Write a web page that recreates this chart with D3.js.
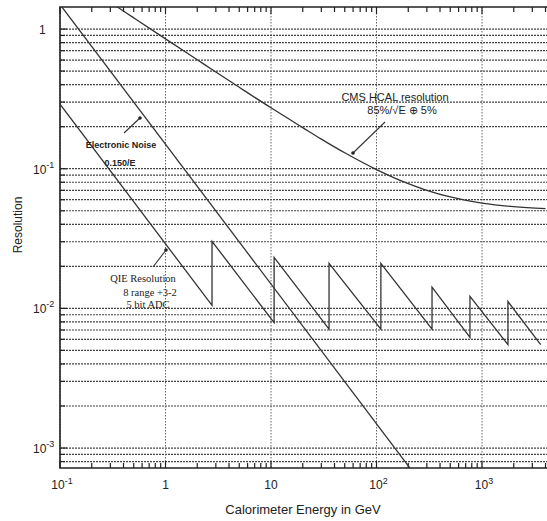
<!DOCTYPE html>
<html>
<head>
<meta charset="utf-8">
<script src="https://cdn.jsdelivr.net/npm/d3@7"></script>
<style>
  body { margin: 0; background: #fff; overflow: hidden; }
  svg { display: block; }
</style>
</head>
<body>
<div id="chart"></div>
<script>
// tick labels (base, exponent)
const xTickValues = [0.1, 1, 10, 100, 1000];
const xTickLabels = [["10", "-1"], ["1", ""], ["10", ""], ["10", "2"], ["10", "3"]];
const yTickValues = [1, 0.1, 0.01, 0.001];
const yTickLabels = [["1", ""], ["10", "-1"], ["10", "-2"], ["10", "-3"]];

// Electronic noise 0.150/E
const noiseE = [0.1, 210];
const noiseRes = [1.5, 0.00071];

// CMS HCAL resolution
const hcalE = [0.3, 0.35, 0.5, 1, 2, 3, 5, 10, 20, 30, 50, 100, 200, 300, 500, 1000, 2000, 4000];
const hcalRes = [1.553, 1.438, 1.203, 0.851, 0.603, 0.493, 0.383, 0.273, 0.197, 0.163, 0.130, 0.0986, 0.0782, 0.0701, 0.0628, 0.0568, 0.0535, 0.0518];

// QIE resolution sawtooth vertices
const qieE = [0.1, 2.76, 2.76, 10.7, 10.7, 35.5, 35.5, 110, 110, 336, 336, 769, 769, 1762, 1762, 3600];
const qieRes = [0.29, 0.0105, 0.0302, 0.0079, 0.0232, 0.0071, 0.021, 0.0071, 0.021, 0.0071, 0.0142, 0.0062, 0.0122, 0.0055, 0.0112, 0.0055];

var W = 547, H = 521;
var plotLeft = 60, plotTop = 7, plotBottom = 468, plotRight = 587.5;

var svg = d3.select("#chart").append("svg").attr("width", W).attr("height", H);

var x = d3.scaleLog().domain([0.1, 1e4]).range([plotLeft, plotRight]);
var y = d3.scaleLog().domain([Math.pow(10, -3.143), Math.pow(10, 0.158)]).range([plotBottom, plotTop]);

svg.append("clipPath").attr("id", "plot")
  .append("rect").attr("x", plotLeft).attr("y", plotTop)
  .attr("width", plotRight - plotLeft).attr("height", plotBottom - plotTop);

var isMajor = v => Math.abs(Math.log10(v) - Math.round(Math.log10(v))) < 1e-6;

// horizontal grid at every tick
svg.append("g").selectAll("line")
  .data(y.ticks())
  .join("line")
  .attr("x1", plotLeft).attr("x2", plotRight)
  .attr("y1", d => y(d)).attr("y2", d => y(d))
  .attr("stroke", "#444")
  .attr("stroke-width", 1.2)
  .attr("stroke-dasharray", "2,1");

// vertical grid at decades
svg.append("g").selectAll("line")
  .data(x.ticks().filter(isMajor))
  .join("line")
  .attr("x1", d => x(d)).attr("x2", d => x(d))
  .attr("y1", plotTop).attr("y2", plotBottom)
  .attr("stroke", "#666")
  .attr("stroke-width", 1)
  .attr("stroke-dasharray", "1.5,1.5");

// ticks on bottom/top/left
var xt = x.ticks();
svg.append("g").selectAll("line").data(xt).join("line")
  .attr("x1", d => x(d)).attr("x2", d => x(d))
  .attr("y1", plotBottom).attr("y2", d => plotBottom - (isMajor(d) ? 7 : 5))
  .attr("stroke", "#222").attr("stroke-width", 1.2);
svg.append("g").selectAll("line").data(xt).join("line")
  .attr("x1", d => x(d)).attr("x2", d => x(d))
  .attr("y1", plotTop).attr("y2", d => plotTop + (isMajor(d) ? 7 : 5))
  .attr("stroke", "#222").attr("stroke-width", 1.2);
svg.append("g").selectAll("line").data(y.ticks()).join("line")
  .attr("x1", plotLeft).attr("x2", d => plotLeft + (isMajor(d) ? 7 : 5))
  .attr("y1", d => y(d)).attr("y2", d => y(d))
  .attr("stroke", "#222").attr("stroke-width", 1.2);

// frame
svg.append("path")
  .attr("d", `M${plotRight},${plotTop}H${plotLeft}V${plotBottom}H${plotRight}`)
  .attr("fill", "none").attr("stroke", "#222").attr("stroke-width", 1.6);

var line = d3.line().x(d => x(d[0])).y(d => y(d[1]));
var curves = svg.append("g").attr("clip-path", "url(#plot)")
  .attr("fill", "none").attr("stroke", "#333").attr("stroke-width", 1.3);

curves.append("path").attr("d", line(noiseE.map((e, i) => [e, noiseRes[i]])));
curves.append("path").attr("d", line.curve(d3.curveMonotoneX)(hcalE.map((e, i) => [e, hcalRes[i]])));
curves.append("path").attr("d", line.curve(d3.curveLinear)(qieE.map((e, i) => [e, qieRes[i]])));

// tick labels
var xl = svg.append("g").attr("font-family", "Liberation Sans, Arial, sans-serif").attr("font-size", 12).attr("fill", "#222");
xTickValues.forEach(function (v, i) {
  var t = xl.append("text").attr("x", x(v) + (xTickLabels[i][1] ? 2 : 0)).attr("y", 489).attr("text-anchor", "middle");
  t.append("tspan").text(xTickLabels[i][0]);
  if (xTickLabels[i][1]) t.append("tspan").attr("dy", -5).attr("font-size", 9).text(xTickLabels[i][1]);
});
var yl = svg.append("g").attr("font-family", "Liberation Sans, Arial, sans-serif").attr("font-size", 12).attr("fill", "#222");
yTickValues.forEach(function (v, i) {
  var t = yl.append("text").attr("x", yTickLabels[i][1] ? 33 : 39).attr("y", y(v) + 5);
  t.append("tspan").text(yTickLabels[i][0]);
  if (yTickLabels[i][1]) t.append("tspan").attr("dy", -6).attr("font-size", 9).text(yTickLabels[i][1]);
});

// axis titles
svg.append("text")
  .attr("transform", "translate(22,225) rotate(-90)")
  .attr("text-anchor", "middle")
  .attr("font-family", "Liberation Sans, Arial, sans-serif").attr("font-size", 12)
  .attr("fill", "#222")
  .text("Resolution");
svg.append("text")
  .attr("x", 303).attr("y", 514)
  .attr("text-anchor", "middle")
  .attr("font-family", "Liberation Sans, Arial, sans-serif").attr("font-size", 13)
  .attr("fill", "#222")
  .text("Calorimeter Energy in GeV");

// annotations
function pointer(x1, y1, x2, y2) {
  svg.append("line").attr("x1", x1).attr("y1", y1).attr("x2", x2).attr("y2", y2)
    .attr("stroke", "#333").attr("stroke-width", 1.1);
  svg.append("circle").attr("cx", x2).attr("cy", y2).attr("r", 1.8).attr("fill", "#222");
}
function label(lines, font, size, weight) {
  var g = svg.append("g").attr("font-family", font).attr("font-size", size)
    .attr("font-weight", weight).attr("fill", "#222").attr("text-anchor", "middle");
  lines.forEach(function (l) {
    g.append("text").attr("x", l[0]).attr("y", l[1]).text(l[2]);
  });
}

pointer(124, 133, 140, 118);
label([[121, 148, "Electronic Noise"], [120, 166, "0.150/E"]], "Liberation Sans, Arial, sans-serif", 9, "bold");

pointer(385, 122, 353, 153);
label([[395, 101, "CMS HCAL resolution"], [402, 114, "85%/\u221AE \u2295 5%"]], "Liberation Sans, Arial, sans-serif", 11, "normal");

pointer(153, 267, 166, 250);
label([[143, 282, "QIE Resolution"], [150, 296, "8 range  +3-2"], [148, 308, "5 bit ADC"]], "Liberation Serif, Times New Roman, serif", 10.5, "normal");
</script>
</body>
</html>
